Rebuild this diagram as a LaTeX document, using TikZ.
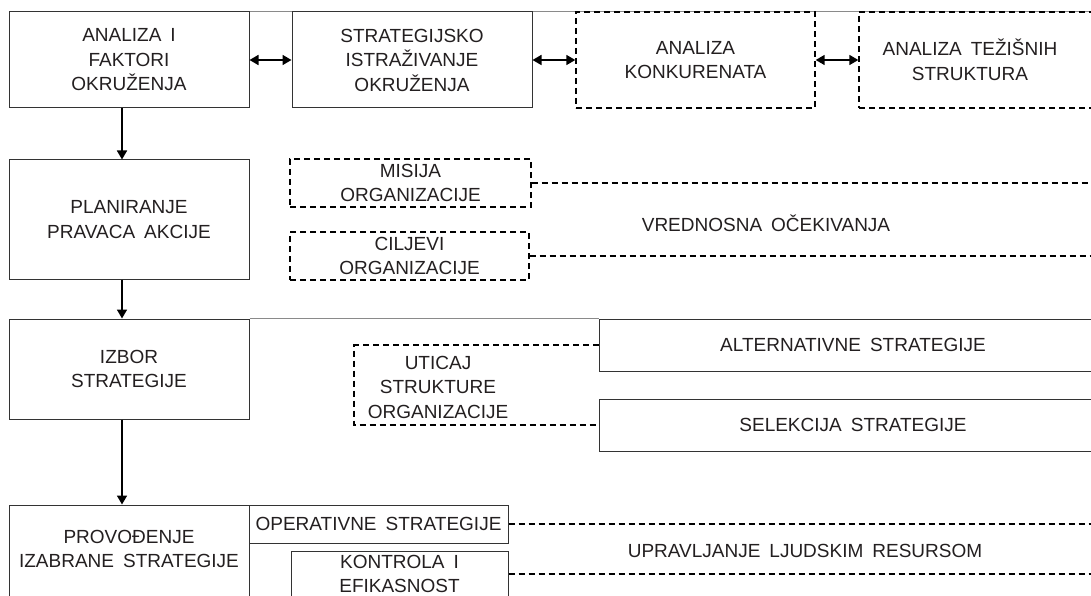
\documentclass[tikz,border=0pt]{standalone}
\usepackage{fontspec}
\setmainfont{Liberation Sans}
\usetikzlibrary{arrows.meta,backgrounds}
\definecolor{txt}{HTML}{231F20}
\definecolor{linec}{HTML}{333333}
\definecolor{rulec}{HTML}{8A8A8A}
\newcommand\diafont{\fontsize{19}{24.5}\selectfont\spaceskip=9pt plus 1pt\relax}
\begin{document}
\begin{tikzpicture}[x=1pt,y=-1pt,
  box/.style={draw=linec, line width=1pt, rectangle, inner sep=0pt, align=center, text=txt, font=\diafont},
  dbox/.style={box, draw=black, line width=1.4pt, dash pattern=on 6pt off 4pt},
  dline/.style={draw=black, line width=1.4pt, dash pattern=on 6pt off 4pt},
  arr/.style={line width=1.7pt, -{Triangle[length=9pt,width=10pt]}},
  darr/.style={line width=1.7pt, {Triangle[length=9pt,width=10pt]}-{Triangle[length=9pt,width=10pt]}},
  rulel/.style={draw=rulec, line width=1pt},
  lbl/.style={align=center, text=txt, inner sep=0pt, font=\diafont}]
\useasboundingbox (0,0) rectangle (1091,596);
\clip (0,0) rectangle (1091,596);
\coordinate (ax) at (122,0);
\coordinate (rr) at (1092,0);
\coordinate (ux) at (354,0);
% top row
\node[box, minimum width=240pt, minimum height=96pt] (b1) at (129,60) {ANALIZA I\\FAKTORI\\OKRUŽENJA};
\node[box, minimum width=240pt, minimum height=96pt] (b2) at (412,60) {STRATEGIJSKO\\ISTRAŽIVANJE\\OKRUŽENJA};
\node[dbox, minimum width=239pt, minimum height=96pt] (b3) at (695.5,60) {ANALIZA\\KONKURENATA};
\node[dbox, minimum width=240pt, minimum height=96pt] (b4) at (979,60) {};
\node[lbl] (t4) at (970,60) {ANALIZA TEŽIŠNIH\\STRUKTURA};
\draw[darr] (b1.east) -- (b2.west);
\draw[darr] (b2.east) -- (b3.west);
\draw[darr] (b3.east) -- (b4.west);
% left column
\node[box, minimum width=240pt, minimum height=119pt] (p) at (129,219.5) {PLANIRANJE\\PRAVACA AKCIJE};
\node[box, minimum width=240pt, minimum height=100pt] (i) at (129,369) {IZBOR\\STRATEGIJE};
\node[box, minimum width=240pt, minimum height=100pt] (v) at (129,555) {};
\node[lbl] (vt) at (129,549) {PROVOĐENJE\\IZABRANE STRATEGIJE};
\draw[arr] (b1.south -| ax) -- (p.north -| ax);
\draw[arr] (p.south -| ax) -- (i.north -| ax);
\draw[arr] (i.south -| ax) -- (v.north -| ax);
% values
\node[dbox, minimum width=241pt, minimum height=48pt] (m) at (410.5,183) {MISIJA\\ORGANIZACIJE};
\node[dbox, minimum width=239pt, minimum height=48pt] (c) at (409.5,256) {CILJEVI\\ORGANIZACIJE};
\draw[dline] (m.east) -- (m.east -| rr);
\draw[dline] (c.east) -- (c.east -| rr);
\node[lbl] (vo) at (766,223) {VREDNOSNA OČEKIVANJA};
% strategy choice
\node[box, minimum width=508pt, minimum height=52pt] (alt) at (853,345) {ALTERNATIVNE STRATEGIJE};
\node[box, minimum width=508pt, minimum height=52pt] (sel) at (853,425) {SELEKCIJA STRATEGIJE};
\draw[dline] (alt.west) -- (alt.west -| ux) -- (sel.west -| ux) -- (sel.west);
\node[lbl] (ut) at (438,387) {UTICAJ\\STRUKTURE\\ORGANIZACIJE};
% implementation
\node[box, minimum width=259pt, minimum height=38pt] (o) at (378.5,524) {OPERATIVNE STRATEGIJE};
\node[box, minimum width=217pt, minimum height=58pt] (k) at (399.5,580) {};
\node[lbl] (kt) at (399.5,574) {KONTROLA I\\EFIKASNOST};
\draw[dline] (o.east) -- (o.east -| rr);
\draw[dline] (kt -| k.east) -- (kt -| rr);
\node[lbl] (ul) at (805,551) {UPRAVLJANJE LJUDSKIM RESURSOM};
% rules
\begin{scope}[on background layer]
\draw[rulel] (b1.north east) -- (b1.north -| rr);
\draw[rulel] (i.north east) -- (alt.north west);
\end{scope}
\end{tikzpicture}
\end{document}
